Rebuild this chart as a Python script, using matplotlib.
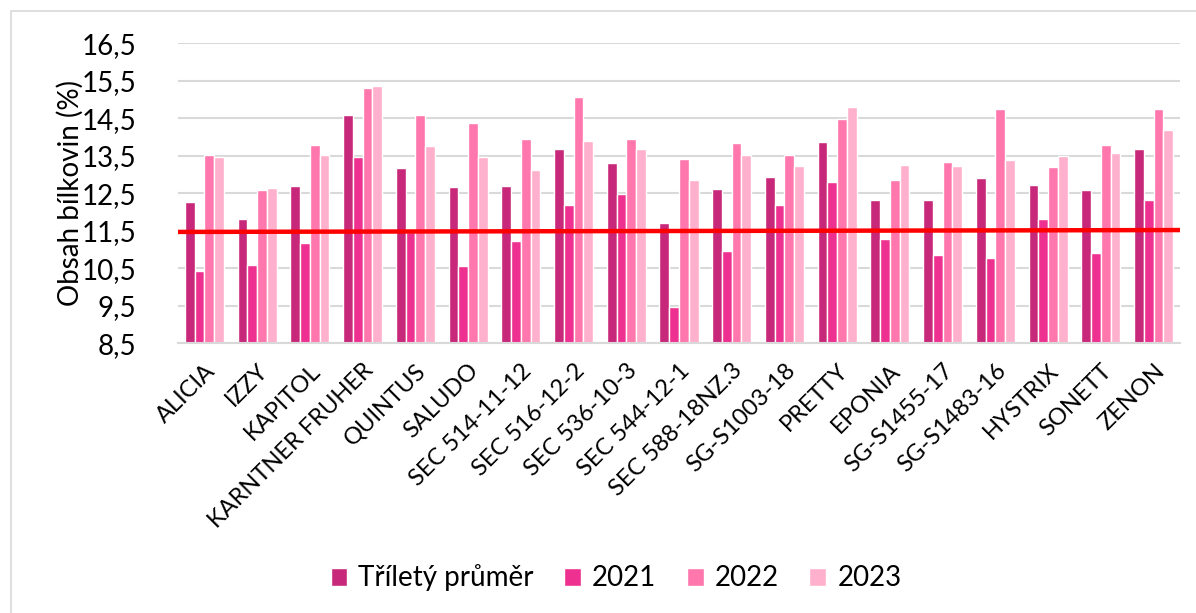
import matplotlib
matplotlib.use("Agg")
from matplotlib import pyplot as plt
from matplotlib.patches import Rectangle
import numpy as np

plt.rcParams['font.family'] = ['Lato', 'DejaVu Sans']

varieties = ['ALICIA', 'IZZY', 'KAPITOL', 'KARNTNER FRUHER', 'QUINTUS', 'SALUDO',
             'SEC 514-11-12', 'SEC 516-12-2', 'SEC 536-10-3', 'SEC 544-12-1',
             'SEC 588-18NZ.3', 'SG-S1003-18', 'PRETTY', 'EPONIA', 'SG-S1455-17',
             'SG-S1483-16', 'HYSTRIX', 'SONETT', 'ZENON']

avg_3y = [12.28, 11.81, 12.69, 14.58, 13.17, 12.67, 12.70, 13.68, 13.31, 11.72,
          12.61, 12.93, 13.88, 12.31, 12.31, 12.90, 12.71, 12.59, 13.67]
y2021 = [10.43, 10.60, 11.17, 13.48, 11.48, 10.56, 11.24, 12.20, 12.48, 9.48,
         10.95, 12.20, 12.80, 11.28, 10.85, 10.78, 11.81, 10.90, 12.32]
y2022 = [13.52, 12.59, 13.79, 15.30, 14.58, 14.37, 13.96, 15.06, 13.95, 13.41,
         13.84, 13.53, 14.48, 12.86, 13.33, 14.75, 13.21, 13.79, 14.76]
y2023 = [13.48, 12.65, 13.51, 15.35, 13.76, 13.48, 13.12, 13.89, 13.69, 12.85,
         13.52, 13.23, 14.81, 13.26, 13.24, 13.40, 13.50, 13.58, 14.20]

series_names = ['Tříletý průměr', '2021', '2022', '2023']
colors = ['#C8287A', '#EE3190', '#FF77AC', '#FFB0CC']

limit_line = [11.47, 11.52]   # red limit, left and right end

fig = plt.figure(figsize=(11.96, 6.13), dpi=100, facecolor='w')
ax = fig.add_axes([178/1196, 1 - 343.3/613, (1180 - 178)/1196, 300/613])

# outer chart frame
fig.patches.append(Rectangle((11/1196, -0.1), 1.2, 1.1 - 11/613, transform=fig.transFigure,
                             fill=False, edgecolor='#D9D9D9', linewidth=1.2))

x = np.arange(len(varieties))
step = 0.185
for i, (vals, name, c) in enumerate(zip([avg_3y, y2021, y2022, y2023], series_names, colors)):
    ax.bar(x + (i - 1.5) * step, np.array(vals) - 8.5, bottom=8.5, width=step,
           color=c, edgecolor='white', linewidth=1.0, label=name, zorder=2)

ax.plot([-0.5, len(varieties) - 0.5], limit_line, color='#FF0000', linewidth=3.2,
        solid_capstyle='butt', zorder=3)

ax.set_xlim(-0.5, len(varieties) - 0.5)
ax.set_ylim(8.5, 16.5)
yt = np.arange(8.5, 16.6, 1.0)
ax.set_yticks(yt)
ax.set_yticklabels([f'{v:.1f}'.replace('.', ',') for v in yt], fontsize=20)
ax.set_xticks(x)
ax.set_xticklabels(varieties, rotation=45, ha='right', rotation_mode='anchor', fontsize=17)
ax.tick_params(axis='y', length=0, pad=30)
ax.tick_params(axis='x', length=0, pad=12)

ax.grid(axis='y', color='#D9D9D9', linewidth=1.5, zorder=0)
ax.set_axisbelow(True)
for s in ['top', 'right', 'left']:
    ax.spines[s].set_visible(False)
ax.spines['bottom'].set_color('#D9D9D9')
ax.spines['bottom'].set_linewidth(1.5)

ax.set_ylabel('Obsah bílkovin (%)', fontsize=20)
ax.yaxis.set_label_coords(-94/1002, 0.5)

fig.legend(loc='center', bbox_to_anchor=(616/1196, 1 - 578/613), ncol=4, frameon=False,
           fontsize=20, handlelength=0.6, handleheight=0.6, handletextpad=0.4,
           columnspacing=1.1)

fig.savefig('out.png', dpi=100)
